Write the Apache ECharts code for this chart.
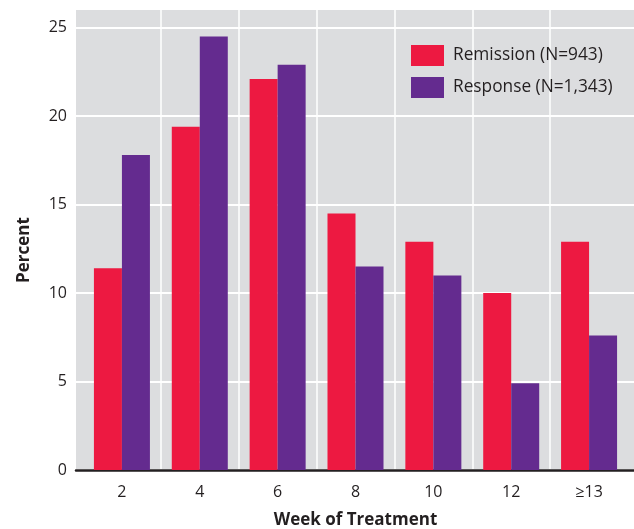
<!DOCTYPE html>
<html>
<head>
<meta charset="utf-8">
<script src="https://cdn.jsdelivr.net/npm/echarts@6/dist/echarts.min.js"></script>
<style>html,body{margin:0;padding:0;background:#fff}#c{width:634px;height:529px}</style>
</head>
<body>
<div id="c"></div>
<script>
var weeks = ['2', '4', '6', '8', '10', '12', '\u226513'];
var remission = [11.4, 19.4, 22.1, 14.5, 12.9, 10.0, 12.9];
var response = [17.8, 24.5, 22.9, 11.5, 11.0, 4.9, 7.6];
var seriesNames = ['Remission (N=943)', 'Response (N=1,343)'];

var FONT = 'Open Sans';
var chart = echarts.init(document.getElementById('c'), null, {renderer: 'canvas'});
chart.setOption({
  animation: false,
  textStyle: {fontFamily: FONT},
  legend: {
    orient: 'vertical', left: 411, top: 45, padding: 0,
    itemWidth: 33, itemHeight: 21, itemGap: 11,
    icon: 'rect',
    textStyle: {fontFamily: FONT, fontSize: 17.3, color: '#231f20', padding: [0, 0, 0, 4]},
    data: seriesNames
  },
  grid: [
    {left: 76, right: 0, top: 10, bottom: 59, show: true, backgroundColor: '#dcdddf', borderWidth: 0,
     outerBoundsMode: 'none', containLabel: false},
    {left: 83, right: 6, top: 10, bottom: 59, outerBoundsMode: 'none', containLabel: false}
  ],
  xAxis: [
    {gridIndex: 0, type: 'value', min: 0, max: 1,
     axisLine: {show: true, lineStyle: {color: '#231f20', width: 2.5}},
     axisTick: {show: false}, axisLabel: {show: false}, splitLine: {show: false}},
    {gridIndex: 1, type: 'category', data: weeks,
     axisLine: {show: false}, axisTick: {show: false},
     axisLabel: {fontFamily: FONT, fontSize: 16, color: '#231f20', margin: 14},
     splitLine: {show: true, showMinLine: false, showMaxLine: false, lineStyle: {color: '#ffffff', width: 1.5}},
     name: 'Week of Treatment', nameLocation: 'middle', nameGap: 42,
     nameTextStyle: {fontFamily: FONT, fontSize: 17, fontWeight: 'bold', color: '#231f20'}}
  ],
  yAxis: [
    {gridIndex: 0, type: 'value', min: 0, max: 26, interval: 5,
     axisLine: {show: false}, axisTick: {show: false},
     axisLabel: {fontFamily: FONT, fontSize: 16, color: '#231f20', margin: 9, showMaxLabel: false},
     splitLine: {show: true, showMaxLine: false, lineStyle: {color: '#ffffff', width: 2}},
     name: 'Percent', nameLocation: 'middle', nameGap: 43,
     nameTextStyle: {fontFamily: FONT, fontSize: 17, fontWeight: 'bold', color: '#231f20', padding: [0, 20, 0, 0]}},
    {gridIndex: 1, type: 'value', min: 0, max: 26, interval: 5, show: false, splitLine: {show: false}}
  ],
  series: [
    {name: seriesNames[0], type: 'bar', xAxisIndex: 1, yAxisIndex: 1, data: remission,
     itemStyle: {color: '#ed1941'}, barWidth: 28, barGap: '0%'},
    {name: seriesNames[1], type: 'bar', xAxisIndex: 1, yAxisIndex: 1, data: response,
     itemStyle: {color: '#642b8f'}, barWidth: 28, barGap: '0%'}
  ]
});
</script>
</body>
</html>
